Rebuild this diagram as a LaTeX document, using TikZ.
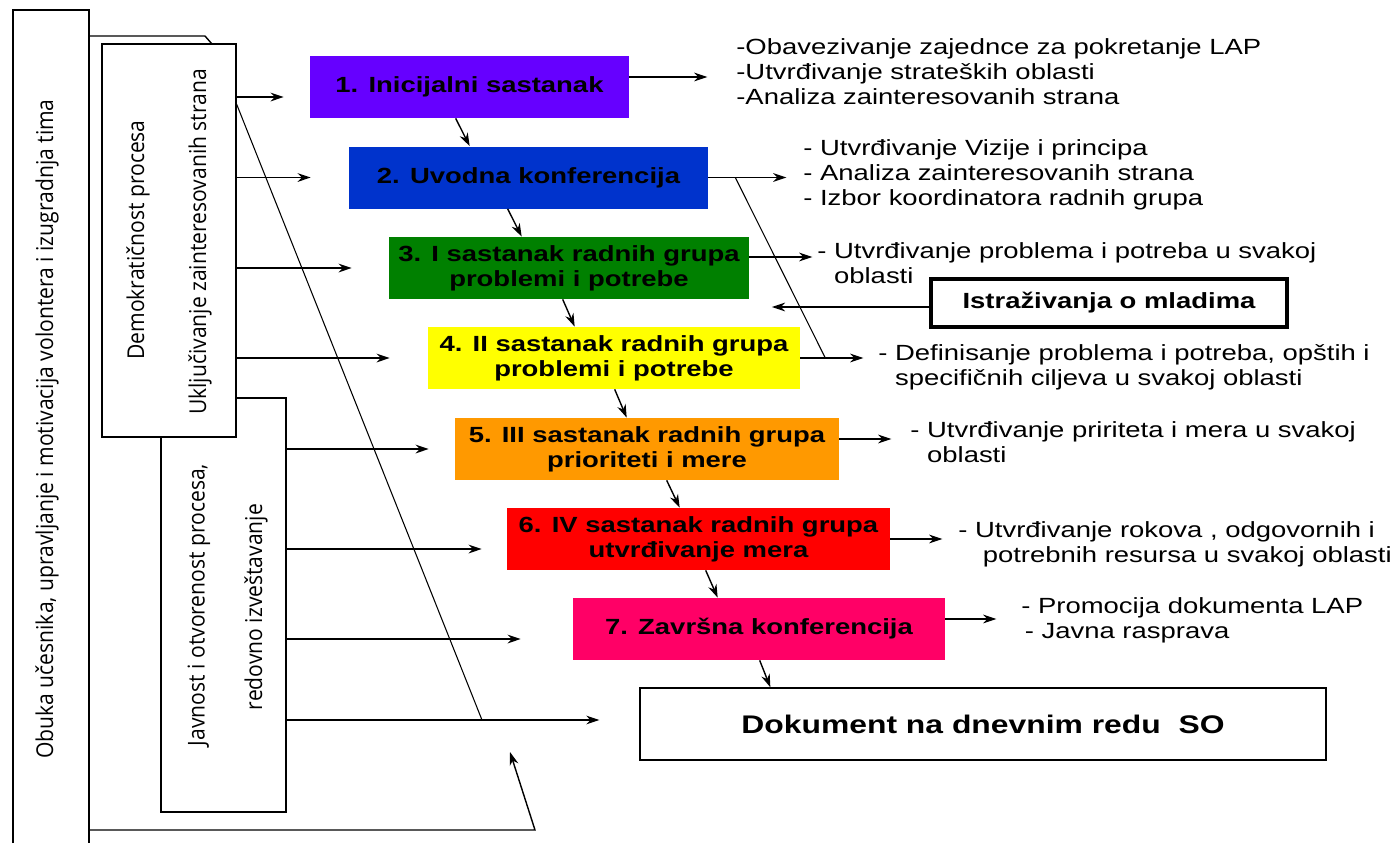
\documentclass[tikz,border=0pt]{standalone}
\usepackage{fontspec}
\setmainfont{Liberation Sans}[FakeStretch=1.25]
\newfontfamily\sidefont{Open Sans}
\usetikzlibrary{arrows.meta,calc}

\definecolor{stepviolet}{HTML}{6600FF}
\definecolor{stepblue}{HTML}{0033CC}
\definecolor{stepgreen}{HTML}{008000}
\definecolor{stepyellow}{HTML}{FFFF00}
\definecolor{steporange}{HTML}{FF9900}
\definecolor{stepred}{HTML}{FF0000}
\definecolor{steppink}{HTML}{FF0066}

\tikzset{
  arr/.style={-{Stealth[length=7.5pt,width=5pt]},thick},
  stage/.style={shape=rectangle,inner sep=0pt,minimum height=1.24cm,align=center,
    font=\bfseries\fontsize{12.5}{14.2}\selectfont},
  note/.style={anchor=west,inner sep=0pt,align=left,font=\fontsize{12.5}{14.2}\selectfont},
  side/.style={rotate=90,inner sep=0pt,font=\sidefont\fontsize{12}{14}\selectfont},
  panel/.style={shape=rectangle,draw,thick,fill=white,inner sep=0pt},
}

\begin{document}
\begin{tikzpicture}[x=0.02cm,y=-0.02cm]
\useasboundingbox (0,0) rectangle (1397,843);
\clip (0,0) rectangle (1397,843);

% frames on the left
\draw[thick] (13,843) -- (13,10) -- (89,10) -- (89,843);
\draw[thick] (89,36) -- (205,36) -- (212,44);
\coordinate (upTip) at (510,752);
\draw[arr] (89,830) -- (535,830) -- (upTip);

\node[panel,minimum width=2.5cm,minimum height=8.28cm] (jav) at (223.5,605) {};
\node[panel,minimum width=2.68cm,minimum height=7.86cm] (dem) at (169,240.5) {};

\node[side] (obuka) at (47,429) {\scalebox{1}[1.1]{Obuka učesnika, upravljanje i motivacija volontera i izugradnja tima}};
\node[side] (demA) at (138,240) {\scalebox{1}[1.1]{Demokratičnost procesa}};
\node[side] (demB) at (200,242) {\scalebox{1}[1.1]{Uključivanje zainteresovanih strana}};
\node[side] (javA) at (199,605) {\scalebox{1}[1.1]{Javnost i otvorenost procesa,}};
\node[side] (javB) at (256,607) {\scalebox{1}[1.1]{redovno izveštavanje}};

% stages
\node[stage,fill=stepviolet,minimum width=6.38cm] (b1) at (469.5,87) {1. Inicijalni sastanak};
\node[stage,fill=stepblue,minimum width=7.18cm] (b2) at (528.5,177.5) {2. Uvodna konferencija};
\node[stage,fill=stepgreen,minimum width=7.2cm] (b3) at (569,268) {3. I sastanak radnih grupa\\problemi i potrebe};
\node[stage,fill=stepyellow,minimum width=7.44cm] (b4) at (614,358) {4. II sastanak radnih grupa\\problemi i potrebe};
\node[stage,fill=steporange,minimum width=7.68cm] (b5) at (647,449) {5. III sastanak radnih grupa\\prioriteti i mere};
\node[stage,fill=stepred,minimum width=7.66cm] (b6) at (698.5,539) {6. IV sastanak radnih grupa\\utvrđivanje mera};
\node[stage,fill=steppink,minimum width=7.44cm] (b7) at (759,629) {7. Završna konferencija};
\node[panel,minimum width=13.72cm,minimum height=1.44cm,font=\bfseries\fontsize{14.5}{16}\selectfont] (dok) at (983,724) {Dokument na dnevnim redu\ \ SO};
\node[panel,line width=2.4pt,minimum width=7.12cm,minimum height=0.96cm,font=\bfseries\fontsize{12.5}{14.2}\selectfont] (istr) at (1109,303) {Istraživanja o mladima};

% notes
\node[note] (n1) at (736,72) {-Obavezivanje zajednce za pokretanje LAP\\-Utvrđivanje strateških oblasti\\-Analiza zainteresovanih strana};
\node[note] (n2) at (803,175) {- Utvrđivanje Vizije i principa\\- Analiza zainteresovanih strana\\- Izbor koordinatora radnih grupa};
\node[note] (n3) at (817,263) {- Utvrđivanje problema i potreba u svakoj\\\phantom{- }oblasti};
\node[note] (n4) at (878,367) {- Definisanje problema i potreba, opštih i\\\phantom{- }specifičnih ciljeva u svakoj oblasti};
\node[note] (n5) at (910,442) {- Utvrđivanje pririteta i mera u svakoj\\\phantom{- }oblasti};
\node[note] (n6) at (958,544) {- Utvrđivanje rokova , odgovornih i\\\phantom{- }\ potrebnih resursa u svakoj oblasti};
\node[note] (n7) at (1021,620) {- Promocija dokumenta LAP\\\hspace{2pt}- Javna rasprava};

% stage to stage
\draw[arr] ($(b1.south west)+(146,0)$) -- ($(b2.north west)+(121,0)$);
\draw[arr] ($(b2.south west)+(159,0)$) -- ($(b3.north west)+(133,0)$);
\draw[arr] ($(b3.south west)+(174,0)$) -- ($(b4.north west)+(147,0)$);
\draw[arr] ($(b4.south west)+(187,0)$) -- ($(b5.north west)+(172,0)$);
\draw[arr] ($(b5.south west)+(212,0)$) -- ($(b6.north west)+(173,0)$);
\draw[arr] ($(b6.south west)+(199,0)$) -- ($(b7.north west)+(145,0)$);
\draw[arr] ($(b7.south west)+(187,0)$) -- ($(dok.north west)+(131,0)$);

% stage to notes
\draw[arr] ($(b1.east)+(0,-10)$) -- ++(78,0);
\draw[arr] (b2.east) -- ++(78,0);
\draw[arr] ($(b3.east)+(0,-11)$) -- ++(63,0);
\draw[arr] (b4.east) -- ++(63,0);
\draw[arr] ($(b5.east)+(0,-10)$) -- ++(52,0);
\draw[arr] (b6.east) -- ++(52,0);
\draw[arr] ($(b7.east)+(0,-10)$) -- ++(51,0);
\draw[semithick] ($(b2.east)+(27,0)$) -- ($(b4.east)+(25,0)$);
\draw[arr] ($(istr.west)+(0,4)$) -- ++(-157,0);

% principles to stages
\draw[arr] ($(dem.east |- b1.west)+(0,10)$) -- ($(b1.west)+(-26,10)$);
\draw[arr] (dem.east |- b2.west) -- ($(b2.west)+(-38,0)$);
\draw[arr] (dem.east |- b3.west) -- ($(b3.west)+(-37,0)$);
\draw[arr] (dem.east |- b4.west) -- ($(b4.west)+(-38,0)$);
\draw[arr] (jav.east |- b5.west) -- ($(b5.west)+(-26,0)$);
\draw[arr] ($(jav.east |- b6.west)+(0,10)$) -- ($(b6.west)+(-25,10)$);
\draw[arr] ($(jav.east |- b7.west)+(0,10)$) -- ($(b7.west)+(-52,10)$);
\draw[arr] ($(jav.east |- dok.west)+(0,-4)$) -- ($(dok.west)+(-40,-4)$);
\coordinate (diagEnd) at (482,720);
\draw[semithick] ($(dem.north east)+(0,61)$) -- (diagEnd);
\end{tikzpicture}
\end{document}
